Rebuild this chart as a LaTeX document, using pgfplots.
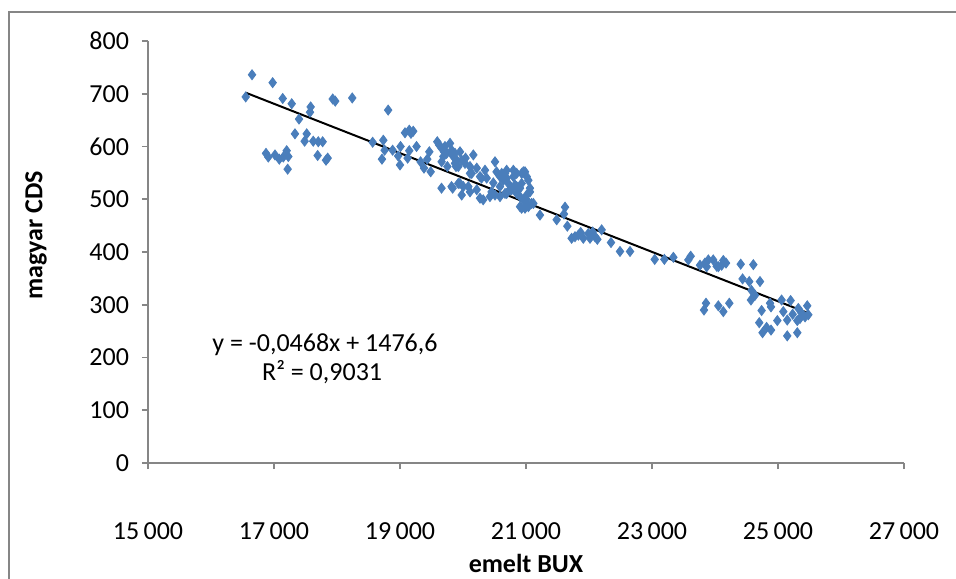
\documentclass[border=0pt]{standalone}
\usepackage{fontspec}
\setmainfont{Carlito}
\usepackage{pgfplots}
\pgfplotsset{compat=1.18}
\definecolor{axgray}{RGB}{134,134,134}
\definecolor{ptblue}{RGB}{74,126,187}
\begin{document}
\begin{tikzpicture}
\begin{axis}[
  at={(0,0)}, anchor=south west,
  scale only axis, width=378pt, height=211pt,
  xmin=15000, xmax=27000, ymin=0, ymax=800,
  axis x line=bottom, axis y line=left,
  axis line style={draw=axgray, line width=0.9pt, -},
  xtick={15000,17000,19000,21000,23000,25000,27000},
  xticklabels={15\,000,17\,000,19\,000,21\,000,23\,000,25\,000,27\,000},
  ytick={0,100,200,300,400,500,600,700,800},
  tick align=outside, major tick length=3pt,
  tick style={draw=axgray, line width=0.9pt},
  /pgf/number format/assume math mode=true,
  tick label style={font=\fontsize{13}{15}\selectfont},
  xticklabel style={yshift=-23.5pt},
  yticklabel style={xshift=-3pt},
  clip=false,
]
\addplot[only marks, mark=diamond*, mark size=2.5pt, color=ptblue] coordinates {
(16551,694) (16651,736) (16979,721) (16873,587) (16910,580) (17016,584) (17084,576)
(17148,580) (17138,691) (17201,592) (17227,581) (17217,557) (17281,681) (17333,624)
(17397,652) (17486,610) (17519,624) (17571,665) (17582,675) (17623,610) (17693,583)
(17703,609) (17772,609) (17825,574) (17852,578) (17932,690) (17972,686) (18242,692)
(18566,608) (18714,576) (18735,612) (18756,593) (18812,669) (18883,593) (18971,582)
(19000,565) (19008,600) (19079,626) (19121,578) (19147,592) (19147,631) (19174,625)
(19210,629) (19262,600) (19326,571) (19381,559) (19433,576) (19465,590) (19487,552)
(19592,609) (19620,603) (19659,597) (19661,571) (19659,521) (19688,581) (19698,590)
(19714,600) (19740,587) (19752,562) (19794,606) (19818,524) (19820,593) (19836,584)
(19836,521) (19846,581) (19873,587) (19873,568) (19889,562) (19900,574) (19925,530)
(19926,562) (19952,590) (19952,530) (19979,508) (19979,574) (20005,524) (20040,578)
(20032,568) (20085,524) (20111,562) (20111,549) (20111,514) (20138,549) (20164,584)
(20218,559) (20218,518) (20270,543) (20270,502) (20294,540) (20320,499) (20349,555)
(20376,540) (20428,505) (20453,514) (20481,531) (20508,571) (20508,508) (20532,552)
(20587,543) (20587,524) (20587,505) (20614,549) (20640,536) (20667,511) (20667,549)
(20693,555) (20693,540) (20693,511) (20719,530) (20746,518) (20772,518) (20799,555)
(20799,543) (20825,527) (20852,549) (20852,524) (20852,511) (20905,521) (20905,505)
(20905,486) (20931,530) (20931,483) (20931,549) (20957,499) (20958,552) (20984,552)
(20984,483) (21011,508) (21011,499) (21011,543) (21037,536) (21038,486) (21063,521)
(21063,514) (21088,492) (21117,492) (21222,470) (21487,461) (21603,472) (21619,485)
(21656,449) (21724,426) (21778,429) (21831,432) (21868,437) (21910,426) (21989,435)
(22016,426) (22058,438) (22095,429) (22132,424) (22201,442) (22349,418) (22492,401)
(22651,401) (23043,386) (23196,386) (23339,390) (23577,385) (23614,392) (23762,375)
(23841,379) (23868,372) (23894,385) (23972,385) (24027,373) (24053,372) (24106,375)
(24132,384) (24175,379) (24408,377) (24608,376) (24438,349) (24543,344) (24714,344)
(24580,327) (24635,318) (24571,309) (23857,303) (23825,290) (24053,298) (24132,287)
(24227,303) (24740,289) (24873,303) (24889,296) (25057,309) (25084,287) (25147,271)
(24702,266) (24755,247) (24819,257) (24889,252) (24989,270) (25147,241) (25306,247)
(25306,270) (25322,293) (25375,284) (25464,298) (25349,274) (25429,277) (25481,281)
(25232,282) (25200,308)
};
\addplot[black, line width=1pt] coordinates {(16551,702.0) (25481,284.1)};
\node[anchor=west, font=\fontsize{13}{15}\selectfont] at (axis cs:15910,224) {y = -0,0468x + 1476,6};
\node[anchor=west, font=\fontsize{13}{15}\selectfont] at (axis cs:16700,172) {R² = 0,9031};
\node[font=\bfseries\fontsize{13}{15}\selectfont] at (axis description cs:0.5,-0.239) {emelt BUX};
\node[font=\bfseries\fontsize{13}{15}\selectfont, rotate=90] at (axis description cs:-0.148,0.54) {magyar CDS};
\end{axis}
\draw[axgray, line width=1pt] (-69.25pt,-70pt) -- (-69.25pt,225.5pt) -- (420pt,225.5pt);
\pgfresetboundingbox
\useasboundingbox (-74pt,-57.5pt) rectangle (404pt,231.5pt);
\end{tikzpicture}
\end{document}
